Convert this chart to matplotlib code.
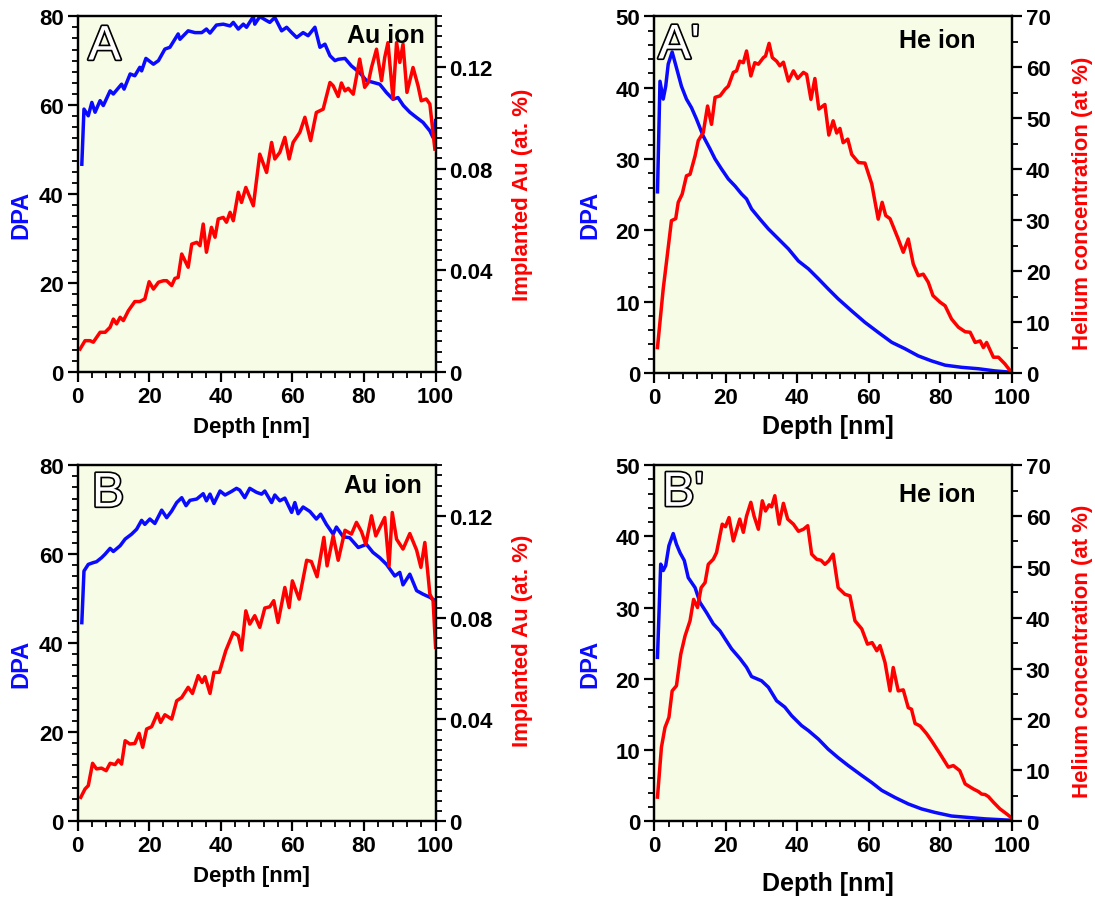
import matplotlib
matplotlib.use('Agg')
import matplotlib.pyplot as plt
import matplotlib.patheffects as pe
from matplotlib.ticker import MultipleLocator, FuncFormatter

plt.rcParams['font.family'] = ['Liberation Sans', 'DejaVu Sans']
plt.rcParams['font.weight'] = 'bold'

# ---- data ----
# panel A : Au ion, DPA (left) and implanted Au (right)
a_dpa_x = [1.2, 1.8, 3.0, 4.0, 4.9, 6.3, 7.2, 9.1, 10.0, 12.3, 13.0, 14.7, 16.0, 17.4, 17.9, 19.1, 21.2, 22.6,
           24.4, 25.8, 28.1, 28.6, 30.9, 32.8, 34.7, 36.0, 37.0, 38.8, 40.7, 42.6, 43.5, 44.9, 46.3, 47.2,
           49.1, 49.5, 50.9, 52.8, 53.7, 55.1, 57.0, 58.4, 59.8, 61.2, 63.0, 64.4, 66.3, 67.7, 69.1, 70.5,
           71.9, 72.8, 74.7, 76.5, 78.8, 80.7, 82.6, 84.4, 86.3, 88.1, 89.5, 91.0, 92.8, 94.7, 96.5, 98.4,
           99.3, 100]
a_dpa_y = [46.7, 59.1, 57.6, 60.6, 58.4, 61.0, 59.9, 63.2, 62.5, 64.7, 63.6, 67.0, 66.6, 68.5, 67.7, 70.5,
           69.2, 70.0, 72.6, 73.0, 76.0, 74.8, 76.7, 76.3, 76.3, 77.1, 76.2, 78.0, 78.2, 77.8, 78.6, 77.1,
           78.2, 77.5, 79.9, 78.2, 79.9, 79.0, 78.6, 79.7, 76.7, 77.5, 76.3, 75.2, 76.3, 75.6, 77.5, 73.0,
           73.7, 71.1, 70.0, 70.3, 70.5, 68.8, 67.3, 65.5, 65.1, 64.7, 62.8, 61.3, 61.7, 59.9, 58.4, 57.2,
           56.1, 54.2, 52.7, 56.5]
a_au_x = [0.7, 2.1, 3.5, 4.4, 6.3, 7.7, 9.1, 10.0, 10.9, 11.9, 12.8, 14.2, 16.0, 17.4, 18.8, 20.0, 21.2,
          22.6, 24.0, 24.9, 26.3, 27.2, 28.1, 29.1, 30.9, 31.9, 33.3, 34.2, 35.1, 36.0, 37.4, 38.4, 39.3,
          40.7, 41.6, 42.6, 43.5, 44.9, 45.8, 47.0, 49.1, 50.9, 52.8, 54.2, 55.1, 56.5, 57.9, 59.1, 60.2,
          62.1, 63.5, 65.1, 66.7, 68.6, 70.5, 71.4, 72.8, 73.7, 74.7, 75.6, 77.0, 78.8, 80.2, 81.2, 82.1,
          83.5, 84.9, 85.8, 86.7, 88.1, 89.1, 90.0, 90.9, 92.0, 93.7, 95.1, 96.0, 97.4, 98.4, 99.8]
a_au_y = [0.0090, 0.0123, 0.0123, 0.0117, 0.0156, 0.0156, 0.0176, 0.0208, 0.0189, 0.0215, 0.0202,
          0.0241, 0.0277, 0.0277, 0.0287, 0.0355, 0.0326, 0.0353, 0.0359, 0.0359, 0.0340, 0.0368,
          0.0372, 0.0464, 0.0412, 0.0503, 0.0510, 0.0497, 0.0582, 0.0471, 0.0569, 0.0530, 0.0602,
          0.0608, 0.0589, 0.0628, 0.0595, 0.0707, 0.0667, 0.0726, 0.0654, 0.0857, 0.0785, 0.0903,
          0.0838, 0.0864, 0.0923, 0.0838, 0.0903, 0.0943, 0.1002, 0.0910, 0.1021, 0.1034, 0.1139,
          0.1126, 0.1084, 0.1137, 0.1106, 0.1116, 0.1093, 0.1231, 0.1120, 0.1139, 0.1198, 0.1270,
          0.1146, 0.1238, 0.1296, 0.1074, 0.1296, 0.1218, 0.1290, 0.1100, 0.1198, 0.1126, 0.1067,
          0.1074, 0.1054, 0.0877]

# panel A' : He ion, DPA (left) and helium concentration (right)
a2_dpa_x = [0.9, 1.6, 2.5, 3.2, 3.9, 5.0, 6.2, 7.6, 9.0, 10.4, 11.8, 13.7, 15.6, 17.0, 18.8, 20.7, 22.6,
            24.4, 25.8, 27.2, 29.5, 31.9, 34.7, 37.5, 40.3, 43.1, 45.9, 48.6, 51.4, 55.2, 58.9, 62.6,
            66.4, 70.1, 73.8, 77.5, 81.3, 85.9, 90.6, 95.2, 99.9]
a2_dpa_y = [25.4, 40.9, 38.4, 40.2, 43.3, 45.0, 42.8, 40.2, 38.4, 37.2, 35.6, 33.2, 31.4, 30.0, 28.6,
            27.2, 26.2, 25.1, 24.4, 23.0, 21.6, 20.2, 18.8, 17.4, 15.7, 14.6, 13.2, 11.8, 10.4, 8.7, 7.1,
            5.7, 4.3, 3.4, 2.4, 1.7, 1.1, 0.8, 0.6, 0.3, 0.1]
a2_he_x = [0.9, 2.5, 3.4, 4.8, 6.0, 6.7, 7.8, 9.0, 10.0, 11.4, 12.3, 13.7, 14.9, 16.0, 17.0, 18.4, 19.8,
           20.7, 22.1, 23.0, 23.9, 24.9, 25.8, 27.0, 28.1, 29.1, 30.5, 31.1, 32.1, 33.0, 34.2, 35.1,
           36.1, 37.5, 38.9, 40.1, 41.7, 42.6, 43.8, 44.9, 46.0, 47.7, 48.8, 50.0, 51.0, 51.9, 52.8,
           54.1, 55.2, 57.1, 58.9, 60.8, 62.6, 63.7, 64.7, 65.9, 68.2, 69.6, 71.0, 72.4, 73.8, 75.2,
           76.6, 77.9, 79.9, 81.3, 83.1, 85.0, 86.9, 88.3, 89.7, 91.1, 92.0, 92.9, 94.8, 96.2, 98.0, 99.9]
a2_he_y = [5.0, 16.5, 21.7, 29.9, 30.3, 33.5, 35.1, 38.7, 39.0, 42.6, 45.6, 47.2, 52.4, 48.8, 54.1, 54.4,
           55.7, 56.3, 59.0, 59.3, 61.2, 60.9, 63.2, 58.3, 60.9, 60.6, 61.9, 62.2, 64.7, 61.9, 61.2,
           60.3, 61.0, 57.3, 59.3, 57.8, 59.0, 58.6, 53.7, 57.8, 51.8, 52.7, 46.7, 49.5, 47.1, 48.0,
           45.2, 45.9, 42.9, 41.3, 41.2, 37.1, 30.2, 33.5, 30.9, 30.3, 26.3, 23.7, 26.3, 21.4, 19.1,
           19.4, 17.8, 15.2, 13.9, 13.2, 10.6, 9.0, 8.1, 8.0, 6.0, 6.3, 5.0, 6.0, 3.1, 3.1, 1.8, 0.1]

# panel B : Au ion
b_dpa_x = [1.2, 1.8, 3.0, 4.4, 5.3, 6.7, 7.7, 9.1, 10.0, 11.9, 13.3, 15.1, 16.5, 17.9, 18.8, 20.2, 21.6,
           23.5, 24.9, 26.3, 27.7, 29.1, 30.3, 31.4, 33.3, 35.1, 36.0, 37.0, 38.1, 39.8, 41.2, 43.0,
           44.4, 45.3, 46.7, 48.1, 50.0, 51.4, 52.3, 54.2, 55.1, 56.5, 57.9, 59.8, 60.7, 61.6, 63.0,
           64.9, 66.7, 67.9, 69.5, 71.4, 72.3, 74.2, 76.0, 78.4, 80.7, 82.5, 84.4, 86.3, 88.6, 90.0,
           90.9, 92.8, 94.7, 96.5, 98.4, 100]
b_dpa_y = [44.6, 56.2, 57.7, 58.1, 58.3, 59.2, 60.0, 61.3, 60.6, 61.9, 63.4, 64.5, 65.6, 67.6, 66.7,
           67.9, 66.9, 69.9, 68.2, 69.7, 71.6, 72.7, 70.9, 72.1, 72.4, 73.6, 72.0, 73.5, 71.4, 74.2,
           73.3, 74.1, 74.8, 74.4, 72.7, 74.8, 73.9, 73.5, 74.2, 71.6, 73.3, 72.0, 72.6, 69.4, 71.6,
           69.1, 70.6, 69.6, 67.9, 69.0, 66.7, 64.5, 66.1, 63.9, 63.7, 61.5, 62.2, 60.4, 59.2, 57.7,
           55.1, 55.9, 53.1, 55.5, 51.8, 51.0, 50.3, 49.5]
b_au_x = [0.9, 2.1, 3.0, 4.2, 5.3, 6.7, 8.0, 9.1, 10.5, 11.4, 12.3, 13.3, 14.6, 16.0, 17.2, 18.2, 19.3,
          20.7, 22.3, 23.2, 24.4, 26.3, 27.7, 29.1, 30.9, 32.1, 33.7, 34.8, 35.6, 37.0, 38.1, 39.6,
          41.4, 43.5, 44.9, 45.8, 47.0, 48.1, 49.5, 50.9, 52.3, 53.7, 54.8, 56.0, 57.9, 59.1, 60.0,
          61.9, 64.0, 65.3, 66.9, 68.8, 69.7, 71.4, 72.8, 74.7, 76.5, 77.9, 79.3, 80.5, 82.1, 83.3,
          85.8, 87.0, 87.9, 89.1, 90.9, 92.8, 94.7, 95.9, 97.0, 98.4, 99.3, 100]
b_au_y = [0.0093, 0.0126, 0.0139, 0.0227, 0.0205, 0.0208, 0.0198, 0.0227, 0.0222, 0.0240, 0.0224,
          0.0316, 0.0303, 0.0305, 0.0345, 0.0290, 0.0362, 0.0371, 0.0423, 0.0388, 0.0418, 0.0401,
          0.0473, 0.0486, 0.0526, 0.0502, 0.0572, 0.0545, 0.0568, 0.0502, 0.0585, 0.0585, 0.0670,
          0.0742, 0.0729, 0.0673, 0.0827, 0.0775, 0.0808, 0.0762, 0.0838, 0.0843, 0.0867, 0.0781,
          0.0919, 0.0840, 0.0945, 0.0873, 0.1026, 0.1021, 0.0961, 0.1116, 0.1004, 0.1122, 0.1026,
          0.1144, 0.1129, 0.1175, 0.1139, 0.1089, 0.1201, 0.1122, 0.1194, 0.1004, 0.1214, 0.1109,
          0.1070, 0.1131, 0.1066, 0.0998, 0.1096, 0.0893, 0.0867, 0.0683]

# panel B' : He ion
b2_dpa_x = [0.9, 1.8, 2.5, 3.2, 4.1, 5.3, 6.2, 7.2, 8.4, 9.5, 11.4, 12.8, 14.6, 16.5, 18.4, 19.8, 21.6,
            24.0, 25.8, 27.2, 30.0, 31.9, 34.2, 36.5, 38.4, 41.2, 43.1, 45.9, 48.6, 51.4, 54.2, 58.0,
            60.8, 63.6, 67.3, 71.0, 74.7, 78.5, 83.1, 87.8, 92.5, 99.9]
b2_dpa_y = [23.0, 36.1, 35.2, 35.9, 38.7, 40.4, 38.9, 37.7, 36.6, 34.2, 32.8, 30.7, 29.3, 27.7, 26.7,
            25.6, 24.2, 22.8, 21.6, 20.3, 19.7, 18.8, 16.9, 16.0, 14.8, 13.4, 12.7, 11.5, 10.1, 8.9, 7.8,
            6.4, 5.4, 4.3, 3.3, 2.4, 1.7, 1.2, 0.7, 0.5, 0.3, 0.1]
b2_he_x = [0.9, 2.0, 3.0, 4.1, 5.0, 6.2, 7.4, 8.6, 10.0, 11.0, 12.1, 13.1, 14.2, 15.1, 16.5, 17.4, 19.0,
           19.9, 20.9, 22.1, 23.9, 24.9, 25.8, 27.0, 27.9, 29.1, 30.2, 31.1, 32.1, 32.8, 33.7, 34.9,
           36.1, 37.3, 38.9, 40.3, 41.7, 42.9, 44.0, 45.4, 46.6, 47.7, 48.8, 50.0, 51.4, 53.3, 54.7,
           56.1, 58.0, 59.6, 60.9, 62.2, 63.1, 64.5, 65.9, 66.8, 68.2, 69.6, 71.0, 71.9, 72.9, 74.3,
           76.1, 77.5, 79.9, 82.2, 83.6, 85.4, 86.9, 89.2, 90.6, 91.5, 92.5, 93.4, 94.8, 96.6, 98.5, 99.9]
b2_he_y = [4.7, 14.5, 18.4, 20.4, 25.6, 26.6, 32.8, 36.4, 39.4, 43.6, 42.0, 45.9, 46.9, 50.5, 51.5, 52.8,
           58.4, 57.9, 59.7, 55.1, 59.4, 56.8, 60.0, 62.7, 60.0, 57.4, 63.0, 61.0, 62.2, 61.8, 64.0,
           58.4, 62.5, 59.4, 58.4, 57.0, 57.4, 58.1, 52.5, 51.5, 51.3, 50.5, 51.2, 52.5, 45.9, 44.6,
           44.3, 39.4, 37.8, 34.8, 35.1, 33.5, 34.5, 31.2, 25.6, 30.2, 25.6, 25.8, 22.3, 22.0, 19.2,
           18.7, 17.2, 15.8, 13.2, 10.6, 10.9, 9.9, 7.3, 6.3, 5.8, 5.3, 5.2, 4.8, 3.7, 2.4, 1.4, 0.6]

BG = '#f7fce6'
BLUE = '#0a0aff'
RED = '#ff0000'

fig = plt.figure(figsize=(10.95, 9.03), dpi=100)


def style_ticks(a):
    a.tick_params(which='major', direction='out', length=7, width=1.6, labelsize=16, pad=3)
    a.tick_params(which='minor', direction='out', length=4, width=1.3)
    for s in a.spines.values():
        s.set_linewidth(1.6)


def make_panel(rect, dpa_x, dpa_y, r_x, r_y, he, letter, ion, ion_pos, letter_pos,
               xlab_y, xlab_size, dpa_lab_x, r_lab_x, r_lab_y):
    ax = fig.add_axes(rect)
    ax.set_facecolor(BG)
    ax2 = ax.twinx()

    ax.plot(dpa_x, dpa_y, color=BLUE, lw=2.5, solid_joinstyle='round')
    ax2.plot(r_x, r_y, color=RED, lw=2.5, solid_joinstyle='round')

    ax.set_xlim(0, 100)
    ax.xaxis.set_major_locator(MultipleLocator(20))
    ax.xaxis.set_minor_locator(MultipleLocator(4))
    if he:
        ax.set_ylim(0, 50)
        ax.yaxis.set_major_locator(MultipleLocator(10))
        ax.yaxis.set_minor_locator(MultipleLocator(2))
        ax2.set_ylim(0, 70)
        ax2.yaxis.set_major_locator(MultipleLocator(10))
        ax2.yaxis.set_minor_locator(MultipleLocator(5))
        rlab = 'Helium concentration (at %)'
    else:
        ax.set_ylim(0, 80)
        ax.yaxis.set_major_locator(MultipleLocator(20))
        ax.yaxis.set_minor_locator(MultipleLocator(2.5))
        ax2.set_ylim(0, 0.14)
        ax2.yaxis.set_major_locator(MultipleLocator(0.04))
        ax2.yaxis.set_minor_locator(MultipleLocator(0.004))
        ax2.yaxis.set_major_formatter(FuncFormatter(lambda v, p: '0' if abs(v) < 1e-9 else '%.2f' % v))
        rlab = 'Implanted Au (at. %)'

    style_ticks(ax)
    style_ticks(ax2)

    ax.text(0.485, xlab_y, 'Depth [nm]', transform=ax.transAxes, ha='center', va='center',
            fontsize=xlab_size, fontweight='bold')
    ax.text(dpa_lab_x, 0.445, 'DPA', transform=ax.transAxes, rotation=90, ha='center', va='center',
            fontsize=17, fontweight='bold', color=BLUE)
    ax2.text(r_lab_x, r_lab_y, rlab, transform=ax2.transAxes, rotation=90, ha='center', va='center',
             fontsize=16, fontweight='bold', color=RED)

    # panel letter, white with a black outline
    ax2.text(letter_pos[0], letter_pos[1], letter, transform=ax2.transAxes, ha='left', va='baseline',
             fontsize=35, fontweight='normal', color='white', zorder=5,
             path_effects=[pe.Stroke(linewidth=2.4, foreground='black'), pe.Normal()])
    ax2.text(ion_pos[0], ion_pos[1], ion, transform=ax2.transAxes, ha='right', va='center',
             fontsize=18, fontweight='bold', zorder=5)
    return ax, ax2


make_panel([0.0708, 0.587, 0.327, 0.394], a_dpa_x, a_dpa_y, a_au_x, a_au_y, False,
           'A', 'Au ion', (0.97, 0.947), (0.03, 0.878), -0.152, 16, -0.158, 1.242, 0.5)
make_panel([0.5975, 0.5858, 0.3267, 0.395], a2_dpa_x, a2_dpa_y, a2_he_x, a2_he_y, True,
           "A'", 'He ion', (0.897, 0.933), (0.011, 0.882), -0.148, 18, -0.179, 1.198, 0.48)
make_panel([0.0708, 0.0897, 0.327, 0.394], b_dpa_x, b_dpa_y, b_au_x, b_au_y, False,
           'B', 'Au ion', (0.96, 0.944), (0.04, 0.884), -0.152, 16, -0.158, 1.242, 0.51)
make_panel([0.5975, 0.0897, 0.3267, 0.394], b2_dpa_x, b2_dpa_y, b2_he_x, b2_he_y, True,
           "B'", 'He ion', (0.897, 0.92), (0.022, 0.886), -0.174, 18, -0.179, 1.198, 0.48)

fig.savefig('out.png', dpi=100, facecolor='white')
